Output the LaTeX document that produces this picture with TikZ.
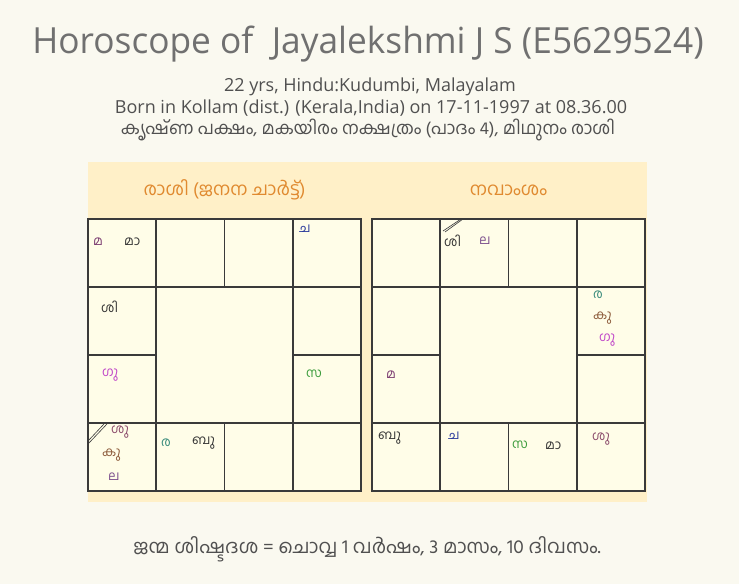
\documentclass[tikz,border=0pt]{standalone}
\usepackage{fontspec}
\setmainfont{Open Sans}
\newfontfamily\titlefont[FakeStretch=0.98]{Open Sans}
\newfontfamily\mlfont[Script=Malayalam]{Hind Kochi}
\usetikzlibrary{positioning}
\definecolor{pagebg}{HTML}{FAF9F0}
\definecolor{panelbg}{HTML}{FFF0C8}
\definecolor{cellbg}{HTML}{FFFDE8}
\definecolor{gridgray}{HTML}{3A3A3A}
\definecolor{headorange}{HTML}{E08A30}
\definecolor{infogray}{HTML}{505050}
\definecolor{titlegray}{HTML}{707070}
\definecolor{satcol}{HTML}{7A3A70}
\definecolor{mooncol}{HTML}{2C3C9C}
\definecolor{jupcol}{HTML}{C046C8}
\definecolor{rahucol}{HTML}{3C9C3C}
\definecolor{vencol}{HTML}{8C4C6C}
\definecolor{marscol}{HTML}{8C5A3A}
\definecolor{lagcol}{HTML}{7A4C8C}
\definecolor{suncol}{HTML}{3A8C7C}
\newcommand{\chartgrid}{%
  \fill[cellbg] (0,0) rectangle (273,272);
  \draw[gridline] (0,0) rectangle (273,272);
  \draw[gridline] (0,68) -- (273,68) (0,204) -- (273,204);
  \draw[gridline] (68,0) -- (68,272) (205,0) -- (205,272);
  \draw[gridline] (136.5,0) -- (136.5,68) (136.5,204) -- (136.5,272);
  \draw[gridline] (0,136) -- (68,136) (205,136) -- (273,136);
}

\begin{document}
\begin{tikzpicture}[
		x=1pt, y=-1pt,
		gridline/.style={draw=gridgray, line width=1.3pt},
		planet/.style={font=\mlfont\fontsize{13}{15}\selectfont, anchor=west, inner sep=0pt},
		header/.style={font=\mlfont\fontsize{18}{21}\selectfont, text=headorange},
		info/.style={font=\fontsize{18}{21}\selectfont, text=infogray, inner sep=0pt},
		lagnamark/.style={draw=gridgray, line width=0.6pt}
		]
		
		% Background and panel
		\fill[pagebg] (0,0) rectangle (739,584);
		\fill[panelbg] (88,162) rectangle (647,502);
		
		% Heading lines
		\node[font=\titlefont\fontsize{36}{42}\selectfont, text=titlegray] (title) at (368,44) {Horoscope of~ Jayalekshmi J S (E5629524)};
		\node[info] (age) at (370,87) {22 yrs, Hindu:Kudumbi, Malayalam};
		\node[info] (birth) at (371,108) {Born in Kollam (dist.) (Kerala,India) on 17-11-1997 at 08.36.00};
		\node[info, font=\mlfont\fontsize{17.5}{20}\selectfont] (star) at (368,130) {കൃഷ്ണ പക്ഷം, മകയിരം നക്ഷത്രം (പാദം 4), മിഥുനം രാശി};
		
		% Rasi chart
		\begin{scope}[shift={(88,219)}]
			\chartgrid
			\node[header] (rasihead) at (136.5,-29) {രാശി (ജനന ചാർട്ട്)};
			\node[planet, text=satcol] (r-ma) at (5,23) {മ};
			\node[planet, text=black!80] (r-mandi) at (36,23) {മാ};
			\node[planet, text=mooncol] (r-cha) at (211,10) {ച};
			\node[planet, text=black!80] (r-shi) at (13,88) {ശി};
			\node[planet, text=jupcol] (r-gu) at (14,156) {ഗു};
			\node[planet, text=rahucol] (r-sa) at (218,155) {സ};
			\node[planet, text=vencol] (r-shu) at (23,213) {ശു};
			\node[planet, text=marscol] (r-ku) at (14,236) {കു};
			\node[planet, text=lagcol] (r-la) at (20,258) {ല};
			\node[planet, text=suncol] (r-ra) at (73,224) {ര};
			\node[planet, text=black!80] (r-bu) at (104,224) {ബു};
			\draw[lagnamark] (0,222) -- (16,205) (0,225) -- (19,205);
		\end{scope}
		
		% Navamsa chart
		\begin{scope}[shift={(372,219)}]
			\chartgrid
			\node[header] (navhead) at (136.5,-29) {നവാംശം};
			\node[planet, text=black!80] (n-shi) at (72,22) {ശി};
			\node[planet, text=lagcol] (n-la) at (107,22) {ല};
			\node[planet, text=suncol] (n-ra) at (221,76) {ര};
			\node[planet, text=marscol] (n-ku) at (221,99) {കു};
			\node[planet, text=jupcol] (n-gu) at (227,121) {ഗു};
			\node[planet, text=satcol] (n-ma) at (14,156) {മ};
			\node[planet, text=black!80] (n-bu) at (6,219) {ബു};
			\node[planet, text=mooncol] (n-cha) at (76,217) {ച};
			\node[planet, text=rahucol] (n-sa) at (140,226) {സ};
			\node[planet, text=black!80] (n-mandi) at (173,227) {മാ};
			\node[planet, text=vencol] (n-shu) at (220,220) {ശു};
			\draw[lagnamark] (71,12) -- (89,0) (73,13) -- (91,0);
		\end{scope}
		
		% Dasa balance
		\node[info, font=\mlfont\fontsize{19.2}{22}\selectfont] (dasa) at (367,549) {ജന്മ ശിഷ്ടദശ = ചൊവ്വ 1 വർഷം, 3 മാസം, 10 ദിവസം.};
		
	\end{tikzpicture}
\end{document}
